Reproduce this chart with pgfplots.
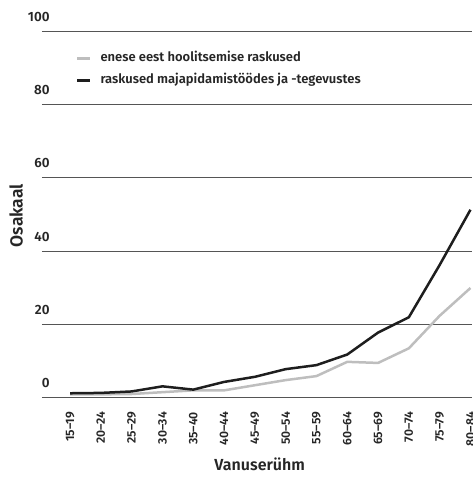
\documentclass[border=0pt]{standalone}
\usepackage{pgfplots}
\pgfplotsset{compat=1.18}
\usepackage{fontspec}
\setmainfont{Fira Sans}[BoldFont={Fira Sans SemiBold}]
\definecolor{lgrey}{RGB}{190,190,190}
\definecolor{dblack}{RGB}{30,30,30}
\definecolor{gridc}{RGB}{85,85,85}
\begin{document}
\begin{tikzpicture}
\path[use as bounding box] (-42pt,-86.7pt) rectangle (430pt,397.3pt);
\begin{axis}[
  at={(0,0)}, anchor=south west,
  scale only axis, width=430pt, height=365.6pt,
  xmin=-0.91, xmax=13.05, ymin=0, ymax=100,
  axis line style={draw=none},
  tick style={draw=none},
  xtick={0,...,13},
  xticklabels={15--19,20--24,25--29,30--34,35--40,40--44,45--49,50--54,55--59,60--64,65--69,70--74,75--79,80--84},
  ytick={0,20,40,60,80,100},
  ymajorgrids, grid style={gridc, line width=1pt},
  /pgf/number format/assume math mode=true,
  xticklabel style={font=\fontsize{12.2}{14}\selectfont\bfseries, text=black!85,
     yshift=-14.5pt, rotate=90, anchor=east, inner sep=0pt},
  yticklabel style={font=\fontsize{13.4}{15}\selectfont\bfseries, text=black!85,
     anchor=base east, inner sep=0pt, xshift=7.8pt, yshift=10pt},
  xlabel={Vanuserühm}, ylabel={Osakaal},
  xlabel style={font=\fontsize{16}{18}\selectfont\bfseries, text=black!85,
     at={(axis description cs:0.5063,-0.1989)}, anchor=base},
  ylabel style={font=\fontsize{17.5}{19}\selectfont\bfseries, text=black!85,
     at={(axis description cs:-0.0449,0.4967)}, anchor=base},
  legend style={draw=none, fill=none, at={(0.0791,0.8966)}, anchor=west,
    inner sep=0pt, outer sep=0pt,
    font=\fontsize{13}{15}\selectfont\bfseries, text=black!85,
    row sep=10.4pt, nodes={inner sep=0pt, outer sep=0pt, anchor=west, text height=9pt, text depth=3pt}},
  legend cell align=left,
  legend image code/.code={\draw[#1, line width=2.5pt] (0pt,0pt) -- (13pt,0pt);},
  every axis plot/.append style={line width=2.5pt, line join=round},
]
\addplot[lgrey] coordinates {(0,0.8) (1,0.8) (2,0.9) (3,1.4) (4,1.9) (5,1.9) (6,3.3) (7,4.7) (8,5.8) (9,9.7) (10,9.4) (11,13.4) (12,22.3) (13,29.9)};
\addlegendentry{\hspace{9pt}enese eest hoolitsemise raskused}
\addplot[dblack] coordinates {(0,1.1) (1,1.2) (2,1.6) (3,3.0) (4,2.1) (5,4.2) (6,5.6) (7,7.7) (8,8.8) (9,11.7) (10,17.7) (11,21.9) (12,36.2) (13,51.3)};
\addlegendentry{\hspace{9pt}raskused majapidamistöödes ja -tegevustes}
\end{axis}
\end{tikzpicture}
\end{document}
